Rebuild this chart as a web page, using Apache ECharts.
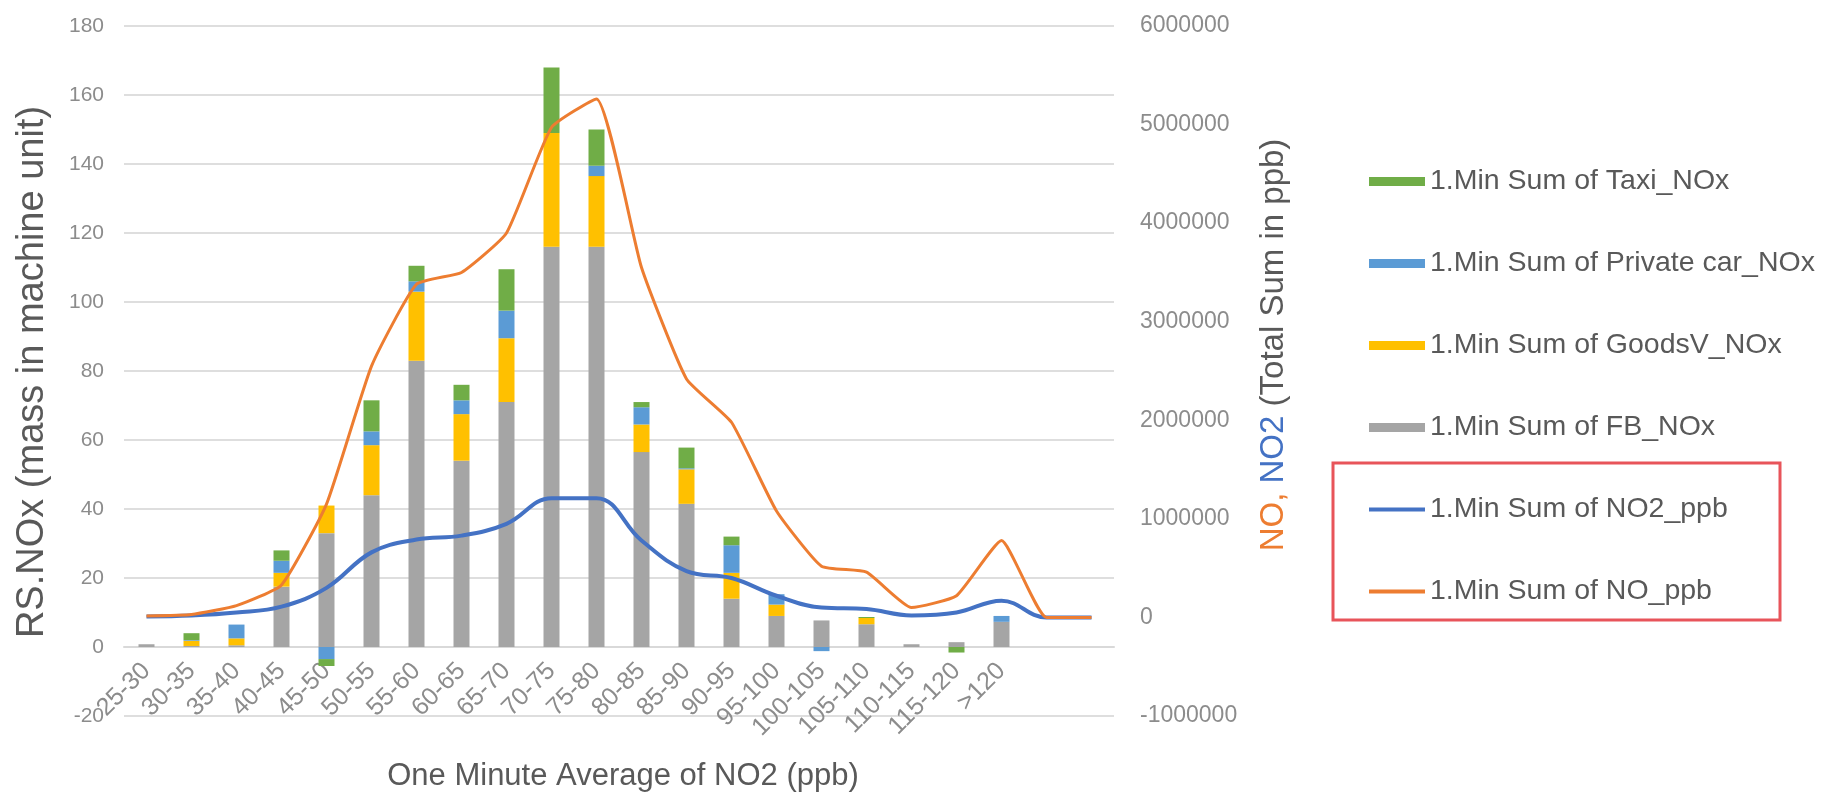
<!DOCTYPE html>
<html>
<head>
<meta charset="utf-8">
<script src="https://cdn.jsdelivr.net/npm/echarts@6/dist/echarts.min.js"></script>
<style>
  html, body { margin: 0; padding: 0; background: #ffffff; }
  #chart { width: 1821px; height: 795px; }
</style>
</head>
<body>
<div id="chart"></div>
<script>
// NO2 concentration bins (ppb); the two trailing bins carry no label
var categories = ['25-30', '30-35', '35-40', '40-45', '45-50', '50-55', '55-60', '60-65', '65-70', '70-75',
  '75-80', '80-85', '85-90', '90-95', '95-100', '100-105', '105-110', '110-115', '115-120', '>120', '', ''];

// Remote-sensing NOx by vehicle class (machine units), stacked
var fbNOx      = [0.8, 0.3, 0.5, 17.5, 33, 44, 83, 54, 71, 116, 116, 56.5, 41.5, 14, 9, 7.7, 6.6, 0.8, 1.4, 7.3, null, null];
var goodsvNOx  = [0, 1.5, 2, 4, 8, 14.5, 20, 13.5, 18.5, 33, 20.5, 8, 10, 7.5, 3.3, 0, 1.8, 0, 0, 0, null, null];
var privateNOx = [0, 0.2, 4, 3.5, -3.5, 4, 3, 4, 8, 0, 3, 5, 0.3, 8, 3, -1.2, 0, 0, 0, 1.7, null, null];
var taxiNOx    = [0, 2, 0, 3, -2, 9, 4.5, 4.5, 12, 19, 10.5, 1.5, 6, 2.5, 0, 0, 0.3, 0, -1.6, 0, null, null];

// Total sums of gas concentrations (ppb), right axis
var no2Sum = [10000, 20000, 50000, 110000, 300000, 660000, 790000, 830000, 950000, 1210000, 1210000, 780000,
  470000, 400000, 220000, 100000, 85000, 20000, 50000, 170000, 0, 0];
var noSum  = [15000, 30000, 120000, 330000, 1150000, 2550000, 3380000, 3500000, 3900000, 4970000, 5260000, 3550000,
  2420000, 1980000, 1080000, 520000, 460000, 100000, 220000, 780000, 0, 0];

var leftTicks = { min: -20, max: 180, interval: 20 };
var rightTicks = { min: -1000000, max: 6000000, interval: 1000000 };

var GRID = { left: 124, top: 26, width: 990, height: 690 };
// the category axis sits on the left axis' zero line
var zeroOffset = GRID.height * (0 - leftTicks.min) / (leftTicks.max - leftTicks.min);

var FONT = '"Liberation Sans", Arial, sans-serif';
var TITLE = '#595959';
var TICK = '#8c8c8c';
var C = { fb: '#a5a5a5', goods: '#ffc000', priv: '#5b9bd5', taxi: '#70ad47', no2: '#4472c4', no: '#ed7d31' };

var chart = echarts.init(document.getElementById('chart'), null, { renderer: 'canvas' });

function barSeries(name, data, color) {
  return {
    name: name, type: 'bar', stack: 'nox', data: data, barWidth: 16,
    itemStyle: { color: color }, yAxisIndex: 0
  };
}

function lineLegend(name, color) {
  return { name: name, itemStyle: { opacity: 0 }, lineStyle: { color: color, width: 4 } };
}

chart.setOption({
  animation: false,
  backgroundColor: '#ffffff',
  textStyle: { fontFamily: FONT },
  grid: { left: GRID.left, top: GRID.top, width: GRID.width, height: GRID.height,
    outerBoundsMode: 'none', containLabel: false },
  legend: {
    orient: 'vertical', left: 1362, top: 162,
    itemWidth: 56, itemHeight: 9, itemGap: 53,
    textStyle: { fontSize: 28.5, color: TITLE, fontFamily: FONT },
    data: [
      { name: '1.Min Sum of Taxi_NOx', icon: 'rect' },
      { name: '1.Min Sum of Private car_NOx', icon: 'rect' },
      { name: '1.Min Sum of GoodsV_NOx', icon: 'rect' },
      { name: '1.Min Sum of FB_NOx', icon: 'rect' },
      lineLegend('1.Min Sum of NO2_ppb', C.no2),
      lineLegend('1.Min Sum of NO_ppb', C.no)
    ]
  },
  xAxis: {
    type: 'category', data: categories, boundaryGap: true,
    offset: -zeroOffset,
    axisLine: { onZero: false, lineStyle: { color: '#d9d9d9', width: 2 } },
    axisTick: { show: false },
    axisLabel: { rotate: 45, fontSize: 25, color: TICK, margin: 20, interval: 0, fontFamily: FONT }
  },
  yAxis: [
    {
      type: 'value', min: leftTicks.min, max: leftTicks.max, interval: leftTicks.interval,
      axisLine: { show: false }, axisTick: { show: false },
      axisLabel: { fontSize: 21, color: TICK, margin: 20, fontFamily: FONT },
      splitLine: { lineStyle: { color: '#dedede', width: 2 } }
    },
    {
      type: 'value', position: 'right', min: rightTicks.min, max: rightTicks.max, interval: rightTicks.interval,
      axisLine: { show: false }, axisTick: { show: false },
      axisLabel: { fontSize: 23, color: TICK, margin: 26, fontFamily: FONT,
        formatter: function (v) { return String(v); } },
      splitLine: { show: false }
    }
  ],
  series: [
    barSeries('1.Min Sum of FB_NOx', fbNOx, C.fb),
    barSeries('1.Min Sum of GoodsV_NOx', goodsvNOx, C.goods),
    barSeries('1.Min Sum of Private car_NOx', privateNOx, C.priv),
    barSeries('1.Min Sum of Taxi_NOx', taxiNOx, C.taxi),
    {
      name: '1.Min Sum of NO2_ppb', type: 'line', yAxisIndex: 1, data: no2Sum,
      smooth: 0.4, symbol: 'none', z: 3,
      lineStyle: { color: C.no2, width: 4 }, itemStyle: { color: C.no2 }
    },
    {
      name: '1.Min Sum of NO_ppb', type: 'line', yAxisIndex: 1, data: noSum,
      smooth: 0.15, symbol: 'none', z: 4,
      lineStyle: { color: C.no, width: 3 }, itemStyle: { color: C.no }
    }
  ],
  graphic: [
    {
      // left axis title
      type: 'text', x: 33, y: 372, rotation: Math.PI / 2,
      style: {
        text: 'RS.NOx (mass in machine unit)', fill: TITLE,
        font: '38px "Liberation Sans", Arial, sans-serif',
        align: 'center', verticalAlign: 'middle'
      }
    },
    {
      // category axis title
      type: 'text', x: 623, y: 776,
      style: {
        text: 'One Minute Average of NO2 (ppb)', fill: TITLE,
        font: '31px "Liberation Sans", Arial, sans-serif',
        align: 'center', verticalAlign: 'middle'
      }
    },
    {
      // right axis title, coloured by gas
      type: 'text', x: 1274, y: 345, rotation: Math.PI / 2,
      style: {
        text: '{o|NO,} {b|NO2} {g|(Total Sum in ppb)}',
        align: 'center', verticalAlign: 'middle',
        font: '33px "Liberation Sans", Arial, sans-serif',
        rich: {
          o: { fill: C.no, fontSize: 33, fontFamily: FONT },
          b: { fill: C.no2, fontSize: 33, fontFamily: FONT },
          g: { fill: TITLE, fontSize: 33, fontFamily: FONT }
        }
      }
    },
    {
      // frame around the gas-sum legend entries
      type: 'rect', shape: { x: 1333, y: 463, width: 447, height: 157 },
      style: { fill: 'none', stroke: '#e8545a', lineWidth: 3 }, silent: true
    }
  ]
});
</script>
</body>
</html>
